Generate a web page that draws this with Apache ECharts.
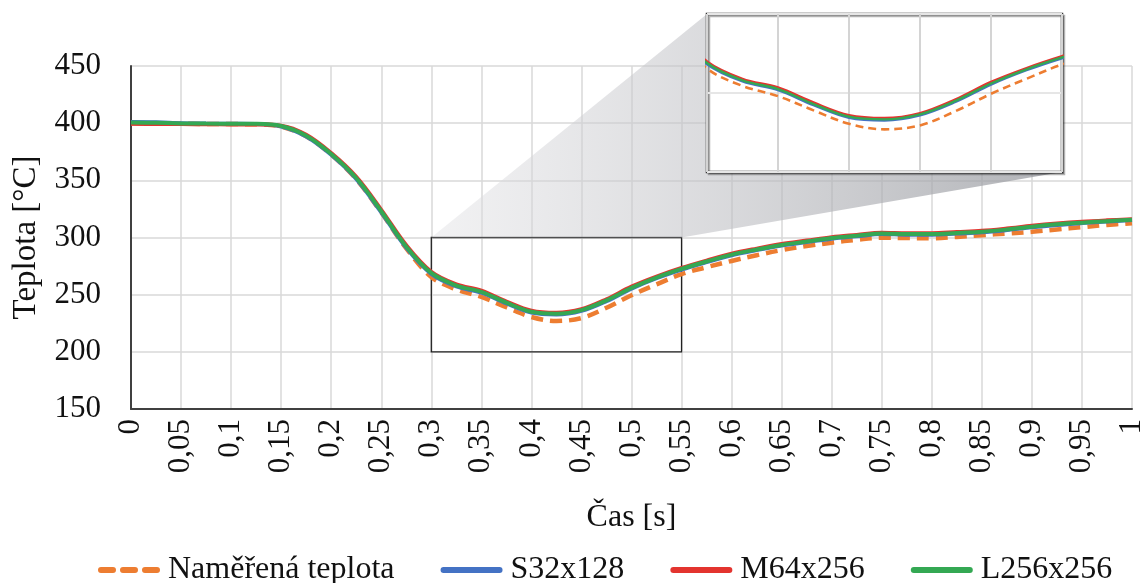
<!DOCTYPE html>
<html>
<head>
<meta charset="utf-8">
<script src="https://cdn.jsdelivr.net/npm/echarts@6/dist/echarts.min.js"></script>
<style>
html,body{margin:0;padding:0;background:#fff;}
#c{width:1144px;height:583px;}
</style>
</head>
<body>
<div id="c"></div>
<script>
const times = [0,0.025,0.05,0.075,0.1,0.125,0.15,0.175,0.2,0.225,0.25,0.275,0.3,0.325,0.35,0.375,0.4,0.425,0.45,0.475,0.5,0.525,0.55,0.575,0.6,0.625,0.65,0.675,0.7,0.725,0.75,0.775,0.8,0.825,0.85,0.875,0.9,0.925,0.95,0.975,1];
const measured = [400,399.8,399.5,399.3,399.2,399,397,388.5,372.5,351,322,290.5,265.5,254.5,248,239,230.5,227,229.5,238.5,249.5,259,268,274,279.5,284.5,289,292.5,295.5,298,299.8,299.5,299.3,300.5,302,303.5,305,307,309,311,312.5];
const s32 = [401,400.8,400,399.7,399.5,399.3,397,388.3,372.3,351.2,322,291,268.2,257.3,251.8,242.3,234.3,232.6,235.8,244.3,255.3,264.4,272,278.5,284.5,289,293,296,299,301,303,302.5,302.5,303.5,304.5,306.5,309,311,312.6,314,315.2];
const m64 = [399.5,399.3,399.2,399,398.9,398.8,397.8,389.8,373.8,353,324.2,293.2,270,259,253.5,244,236,234.2,237.3,246,257,265.8,273.3,279.8,285.8,290.3,294.3,297.3,300.3,302.3,304.2,303.8,303.8,304.8,305.8,307.8,310.2,312.2,313.8,315,316];
const l256 = [400.5,400.3,399.8,399.6,399.5,399.4,397.5,389,373,352,323,292,269,258,252.5,243,235,233.3,236.5,245,256,265,272.5,279,285,289.5,293.5,296.5,299.5,301.5,303.5,303,303,304,305,307,309.5,311.5,313,314.3,315.5];
const seriesNames = ['Naměřená teplota','S32x128','M64x256','L256x256'];
const colors = ['#ED7D31','#4472C4','#E3342F','#34A853'];
const zoomX = [0.3,0.55];
const zoomY = [200,300];

const pts = arr => times.map((t,i)=>[t,arr[i]]);
const FONT = 'Liberation Serif, DejaVu Serif, serif';
const fmt = v => (+v.toFixed(2)).toString().replace('.',',');

const chart = echarts.init(document.getElementById('c'));
const datas = [measured,s32,m64,l256];

const series = [];
datas.forEach((d,i)=>{
  series.push({
    name: seriesNames[i], type:'line', xAxisIndex:0, yAxisIndex:0,
    data: pts(d), showSymbol:false, symbol:'none', smooth:0.35,
    lineStyle:{color:colors[i], width: i===0?4.5:4, type: i===0?[12,7]:'solid'},
    itemStyle:{color:colors[i]}, z: 2+i,
    markArea: i===0 ? {silent:true, itemStyle:{color:'rgba(0,0,0,0)', borderColor:'#222', borderWidth:1.3},
      data:[[{coord:[zoomX[0],zoomY[1]]},{coord:[zoomX[1],zoomY[0]]}]]} : undefined
  });
});
datas.forEach((d,i)=>{
  series.push({
    name: seriesNames[i], type:'line', xAxisIndex:1, yAxisIndex:1,
    data: pts(d), showSymbol:false, symbol:'none', smooth:0.35, clip:true,
    lineStyle:{color:colors[i], width: i===0?2.6:2.4, type: i===0?[8,5]:'solid'},
    itemStyle:{color:colors[i]}, z: 10+i
  });
});

const dashIcon = 'path://M3,0h12a3,3 0 0 1 0,6h-12a3,3 0 0 1 0,-6z M25,0h12a3,3 0 0 1 0,6h-12a3,3 0 0 1 0,-6z M47,0h12a3,3 0 0 1 0,6h-12a3,3 0 0 1 0,-6z';
const solidIcon = 'path://M3,0h56a3,3 0 0 1 0,6h-56a3,3 0 0 1 0,-6z';

chart.setOption({
  animation:false,
  backgroundColor:'#fff',
  textStyle:{fontFamily:FONT},
  grid:[
    {left:131, right:12, top:66, bottom:174, containLabel:false, outerBoundsMode:'none'},
    {left:707, top:14, width:355, height:158, show:true, backgroundColor:'#fff', outerBoundsMode:'none',
     borderColor:'#333', borderWidth:2.5, z:5,
     shadowColor:'rgba(0,0,0,0.3)', shadowBlur:0, shadowOffsetX:2, shadowOffsetY:2}
  ],
  xAxis:[
    {type:'value', gridIndex:0, min:0, max:1, interval:0.05,
     axisLine:{show:true, onZero:false, lineStyle:{color:'#404040', width:2}},
     axisTick:{show:false},
     axisLabel:{rotate:90, margin:10, color:'#111', fontSize:31, fontFamily:FONT, formatter:fmt, showMaxLabel:true, showMinLabel:true},
     splitLine:{show:true, lineStyle:{color:'#d9d9d9', width:1.5}},
     name:'Čas [s]', nameLocation:'middle', nameGap:93,
     nameTextStyle:{fontSize:32, color:'#111', fontFamily:FONT}},
    {type:'value', gridIndex:1, min:zoomX[0], max:zoomX[1], interval:0.05, z:6,
     axisLine:{show:false}, axisTick:{show:false}, axisLabel:{show:false},
     splitLine:{show:true, lineStyle:{color:'#d4d4d4', width:2}}}
  ],
  yAxis:[
    {type:'value', gridIndex:0, min:150, max:450, interval:50,
     axisLine:{show:true, lineStyle:{color:'#404040', width:2}},
     axisTick:{show:false},
     axisLabel:{margin:30, color:'#111', fontSize:31, fontFamily:FONT},
     splitLine:{show:true, lineStyle:{color:'#d9d9d9', width:1.5}},
     name:'Teplota [°C]', nameLocation:'middle', nameGap:88, nameRotate:90,
     nameTextStyle:{fontSize:33, color:'#111', fontFamily:FONT}},
    {type:'value', gridIndex:1, min:zoomY[0], max:zoomY[1], interval:50, z:6,
     axisLine:{show:false}, axisTick:{show:false}, axisLabel:{show:false},
     splitLine:{show:true, lineStyle:{color:'#e6e6e6', width:2}}}
  ],
  legend:{
    data: seriesNames.map((n,i)=>({name:n, icon: i===0?dashIcon:solidIcon, itemStyle:{color:colors[i]}})),
    bottom:-8, left:93, itemGap:46, itemWidth:62, itemHeight:6,
    textStyle:{fontSize:32, color:'#111', fontFamily:FONT, padding:[0,0,0,3]}
  },
  series: series
});

const bTL = chart.convertToPixel({gridIndex:0}, [zoomX[0], zoomY[1]]);
const bTR = chart.convertToPixel({gridIndex:0}, [zoomX[1], zoomY[1]]);
const iTL = chart.convertToPixel({gridIndex:1}, [zoomX[0], zoomY[1]]);
const iBR = chart.convertToPixel({gridIndex:1}, [zoomX[1], zoomY[0]]);
chart.setOption({
  graphic:[{
    type:'polygon', z:1, silent:true,
    shape:{points:[bTL, iTL, iBR, bTR]},
    style:{fill: new echarts.graphic.LinearGradient(0,0,1,0,[
      {offset:0, color:'rgba(225,225,228,0.45)'},
      {offset:1, color:'rgba(150,152,158,0.75)'}
    ])}
  }]
});
</script>
</body>
</html>
